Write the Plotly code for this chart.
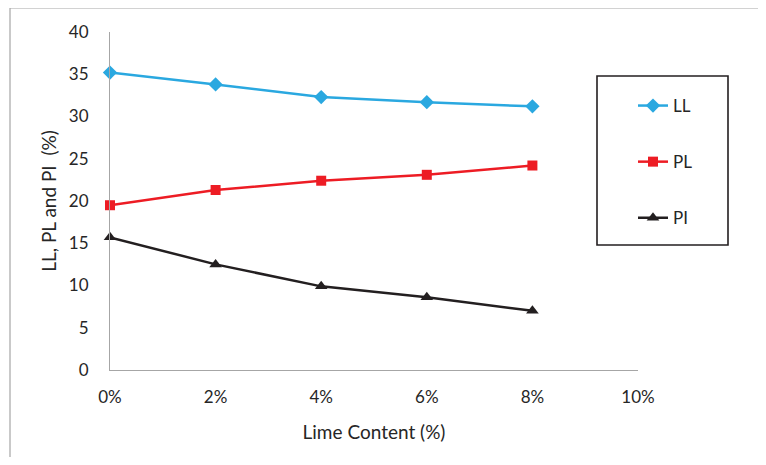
import plotly.graph_objects as go

lime = [0, 2, 4, 6, 8]
ll = [35.2, 33.8, 32.3, 31.7, 31.2]
pl = [19.5, 21.3, 22.4, 23.1, 24.2]
pi = [15.7, 12.5, 9.9, 8.6, 7.0]
x_ticks = [0, 2, 4, 6, 8, 10]
y_ticks = [0, 5, 10, 15, 20, 25, 30, 35, 40]

OFF = 8  # page body margin
W, H = 766 - 2 * OFF, 465 - 2 * OFF
L, R, T, B = 110 - OFF, 638 - OFF, 32 - OFF, 370 - OFF

fig = go.Figure()
series = [
    ("LL", ll, "#2AA8E0", "diamond", 11),
    ("PL", pl, "#ED1C24", "square", 10),
    ("PI", pi, "#231F20", "triangle-up", 11),
]
for name, vals, col, sym, sz in series:
    fig.add_trace(go.Scatter(
        x=lime, y=vals, name=name, mode="lines+markers",
        line=dict(color=col, width=2.5),
        marker=dict(symbol=sym, size=sz, color=col),
        cliponaxis=False, legendgroup=name,
    ))

def px_x(p):
    return (p - OFF - L) / (R - L)

def px_y(p):
    return (B - (p - OFF)) / (B - T)

shapes = [
    dict(type="rect", xref="paper", yref="paper",
         x0=px_x(10), x1=px_x(790), y0=px_y(8), y1=px_y(490),
         line=dict(color="#A6A6A6", width=1.2), layer="below"),
    dict(type="rect", xref="paper", yref="paper",
         x0=px_x(597), x1=px_x(728), y0=px_y(76), y1=px_y(245),
         line=dict(color="#231F20", width=1.6)),
]

fig.update_layout(
    width=W, height=H,
    margin=dict(l=L, r=W - R, t=T, b=H - B),
    paper_bgcolor="white", plot_bgcolor="white",
    font=dict(family="Lato, Open Sans, sans-serif", color="#262626", size=17),
    shapes=shapes,
    showlegend=True,
    legend=dict(
        x=px_x(633), y=px_y(88), xanchor="left", yanchor="top",
        bgcolor="rgba(0,0,0,0)", borderwidth=0,
        tracegroupgap=31, font=dict(size=17),
    ),
    xaxis=dict(
        range=[0, 10], tickvals=x_ticks, ticktext=[f"{v}%" for v in x_ticks],
        showgrid=False, zeroline=False, showline=True,
        linecolor="#A6A6A6", linewidth=1.2,
        ticks="outside", ticklen=11, tickcolor="rgba(0,0,0,0)",
        tickfont=dict(size=17),
        title=dict(text="Lime Content (%)", font=dict(size=19), standoff=20),
    ),
    yaxis=dict(
        range=[0, 40], tickvals=y_ticks,
        showgrid=False, zeroline=False, showline=True,
        linecolor="#A6A6A6", linewidth=1.2,
        ticks="outside", ticklen=17, tickcolor="rgba(0,0,0,0)",
        tickfont=dict(size=17),
        title=dict(text="LL, PL and PI  (%)", font=dict(size=19), standoff=7),
    ),
)

fig.write_html("out.html")
